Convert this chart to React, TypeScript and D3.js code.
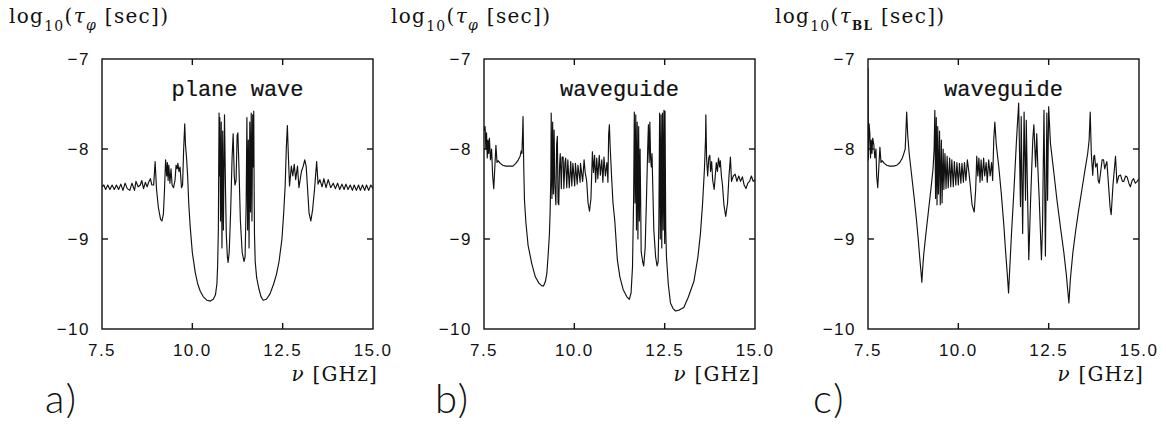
import React from "react";
import * as d3 from "d3";

type Pt = [number, number];

const xTicks = [7.5, 10.0, 12.5, 15.0];
const yTicks = [-7, -8, -9, -10];
const xTickLabels = ["7.5", "10.0", "12.5", "15.0"];
const yTickLabels = ["\u22127", "\u22128", "\u22129", "\u221210"];
const panelTitles = ["plane wave", "waveguide", "waveguide"];
const panelLetters = ["a)", "b)", "c)"];
const ySubscripts = ["\u03c6", "\u03c6", "BL"];

// panel a: plane wave, log10(tau_phi)
const seriesA: Pt[] = [
  [7.50,-8.42],[7.55,-8.40],[7.60,-8.45],[7.66,-8.40],[7.72,-8.45],[7.78,-8.40],[7.84,-8.45],[7.90,-8.40],
  [7.96,-8.45],[8.02,-8.39],[8.08,-8.46],[8.14,-8.38],[8.20,-8.44],[8.27,-8.46],[8.33,-8.38],[8.40,-8.46],
  [8.44,-8.36],[8.50,-8.42],[8.56,-8.40],[8.60,-8.35],[8.65,-8.44],[8.70,-8.37],[8.75,-8.42],[8.80,-8.36],
  [8.84,-8.33],[8.88,-8.40],[8.93,-8.40],[8.97,-8.14],[9.01,-8.45],[9.06,-8.65],[9.12,-8.78],[9.16,-8.80],
  [9.20,-8.72],[9.23,-8.45],[9.26,-8.12],[9.29,-8.30],[9.31,-8.15],[9.33,-8.35],[9.35,-8.18],[9.38,-8.38],
  [9.41,-8.22],[9.44,-8.40],[9.48,-8.43],[9.52,-8.35],[9.55,-8.18],[9.58,-8.22],[9.60,-8.16],[9.63,-8.25],
  [9.66,-8.20],[9.70,-8.43],[9.73,-8.40],[9.76,-8.00],[9.79,-7.72],[9.81,-7.95],[9.84,-8.10],[9.87,-8.30],
  [9.90,-8.60],[9.94,-8.86],[10.00,-9.15],[10.08,-9.37],[10.15,-9.50],[10.22,-9.58],[10.30,-9.64],[10.40,-9.68],
  [10.50,-9.69],[10.58,-9.67],[10.64,-9.62],[10.68,-9.50],[10.70,-9.30],[10.72,-8.90],[10.73,-8.20],[10.74,-7.60],
  [10.75,-8.30],[10.76,-7.65],[10.78,-8.80],[10.80,-7.70],[10.82,-9.10],[10.84,-7.80],[10.86,-8.90],[10.89,-7.62],
  [10.92,-8.50],[10.94,-8.95],[10.97,-9.20],[10.99,-9.26],[11.02,-9.15],[11.06,-8.70],[11.10,-8.10],[11.13,-7.83],
  [11.16,-8.30],[11.18,-8.40],[11.21,-8.35],[11.24,-7.85],[11.26,-7.82],[11.29,-8.20],[11.33,-8.80],[11.38,-9.15],
  [11.43,-9.25],[11.46,-9.20],[11.49,-8.60],[11.51,-7.65],[11.53,-8.90],[11.55,-7.90],[11.57,-9.10],[11.59,-7.70],
  [11.61,-8.70],[11.63,-7.60],[11.65,-8.80],[11.67,-7.62],[11.69,-8.20],[11.70,-7.58],[11.71,-8.40],[11.72,-8.95],
  [11.74,-9.25],[11.78,-9.43],[11.84,-9.55],[11.90,-9.64],[11.96,-9.68],[12.05,-9.67],[12.15,-9.61],[12.25,-9.50],
  [12.33,-9.39],[12.40,-9.25],[12.48,-9.00],[12.53,-8.70],[12.57,-8.40],[12.60,-8.00],[12.63,-7.74],[12.66,-8.10],
  [12.69,-8.41],[12.74,-8.19],[12.78,-8.30],[12.82,-8.17],[12.86,-8.34],[12.91,-8.19],[12.95,-8.43],[13.02,-8.25],
  [13.07,-8.19],[13.11,-8.12],[13.15,-8.19],[13.18,-8.38],[13.23,-8.71],[13.28,-8.80],[13.33,-8.67],[13.39,-8.41],
  [13.44,-8.14],[13.48,-8.39],[13.53,-8.34],[13.59,-8.42],[13.64,-8.33],[13.70,-8.43],[13.76,-8.34],[13.83,-8.43],
  [13.90,-8.38],[13.96,-8.44],[14.02,-8.38],[14.08,-8.45],[14.14,-8.39],[14.20,-8.45],[14.25,-8.39],[14.31,-8.45],
  [14.37,-8.40],[14.43,-8.46],[14.48,-8.40],[14.54,-8.46],[14.60,-8.40],[14.65,-8.46],[14.71,-8.40],[14.77,-8.46],
  [14.82,-8.40],[14.88,-8.46],[14.94,-8.40],[15.00,-8.44],
];

// panel b: waveguide, log10(tau_phi)
const seriesB: Pt[] = [
  [7.50,-7.80],[7.53,-7.75],[7.55,-8.00],[7.57,-7.82],[7.59,-8.10],[7.61,-7.90],[7.63,-8.05],[7.65,-7.88],
  [7.68,-8.12],[7.71,-8.00],[7.74,-8.30],[7.77,-8.44],[7.80,-8.20],[7.83,-7.96],[7.86,-8.15],[7.89,-8.13],
  [7.95,-8.16],[8.02,-8.18],[8.10,-8.19],[8.20,-8.19],[8.30,-8.19],[8.38,-8.16],[8.45,-8.12],[8.50,-8.08],
  [8.53,-8.02],[8.55,-8.05],[8.57,-7.80],[8.58,-7.64],[8.60,-8.20],[8.62,-8.57],[8.66,-8.82],[8.72,-9.07],
  [8.82,-9.27],[8.92,-9.42],[9.02,-9.49],[9.10,-9.52],[9.15,-9.52],[9.20,-9.47],[9.24,-9.38],[9.28,-9.15],
  [9.31,-8.95],[9.33,-8.70],[9.35,-8.30],[9.36,-7.60],[9.38,-8.55],[9.40,-7.70],[9.42,-8.50],[9.44,-7.79],
  [9.46,-8.40],[9.49,-8.62],[9.51,-7.95],[9.53,-7.86],[9.55,-8.60],[9.57,-8.62],[9.59,-8.20],[9.61,-8.05],
  [9.64,-8.44],[9.66,-8.09],[9.69,-8.09],[9.71,-8.44],[9.74,-8.15],[9.76,-8.10],[9.79,-8.43],[9.82,-8.12],
  [9.86,-8.43],[9.90,-8.14],[9.93,-8.41],[9.96,-8.16],[10.01,-8.41],[10.03,-8.16],[10.08,-8.39],[10.10,-8.18],
  [10.16,-8.37],[10.17,-8.16],[10.23,-8.36],[10.27,-8.12],[10.30,-8.26],[10.34,-8.35],[10.38,-8.60],[10.42,-8.69],
  [10.46,-8.55],[10.50,-8.03],[10.53,-8.26],[10.56,-8.07],[10.59,-8.37],[10.62,-8.10],[10.65,-8.33],[10.69,-8.07],
  [10.72,-8.29],[10.76,-8.12],[10.79,-8.37],[10.82,-8.09],[10.86,-8.30],[10.90,-8.15],[10.93,-8.37],[10.95,-7.84],
  [10.97,-7.73],[10.99,-7.96],[11.03,-8.30],[11.07,-8.60],[11.12,-8.80],[11.19,-9.23],[11.26,-9.42],[11.35,-9.56],
  [11.45,-9.64],[11.52,-9.67],[11.57,-9.60],[11.61,-9.31],[11.64,-8.57],[11.66,-7.59],[11.68,-8.60],[11.70,-7.62],
  [11.72,-8.90],[11.74,-7.70],[11.76,-9.00],[11.78,-7.75],[11.80,-8.80],[11.82,-8.00],[11.85,-9.14],[11.89,-9.25],
  [11.92,-9.30],[11.96,-9.10],[12.00,-8.50],[12.03,-8.00],[12.05,-7.73],[12.07,-8.15],[12.09,-7.70],[12.11,-8.10],
  [12.13,-8.20],[12.15,-8.05],[12.17,-8.40],[12.20,-8.90],[12.25,-9.20],[12.29,-9.30],[12.32,-9.25],[12.34,-8.80],
  [12.36,-7.60],[12.38,-9.00],[12.40,-7.62],[12.42,-9.10],[12.44,-7.60],[12.46,-8.90],[12.48,-7.57],[12.50,-9.05],
  [12.51,-7.58],[12.53,-8.90],[12.55,-9.20],[12.60,-9.50],[12.66,-9.71],[12.73,-9.77],[12.80,-9.80],[12.90,-9.79],
  [13.03,-9.76],[13.15,-9.65],[13.31,-9.47],[13.42,-9.20],[13.49,-8.94],[13.55,-8.60],[13.60,-8.23],[13.63,-7.90],
  [13.64,-7.62],[13.66,-8.10],[13.69,-8.30],[13.72,-8.10],[13.75,-8.07],[13.77,-8.25],[13.80,-8.14],[13.83,-8.35],
  [13.87,-8.45],[13.90,-8.30],[13.93,-8.15],[13.96,-8.25],[13.99,-8.10],[14.02,-8.20],[14.04,-8.13],[14.07,-8.30],
  [14.10,-8.40],[14.14,-8.62],[14.19,-8.75],[14.24,-8.60],[14.28,-8.30],[14.32,-8.09],[14.35,-8.36],[14.40,-8.30],
  [14.45,-8.28],[14.50,-8.36],[14.55,-8.30],[14.60,-8.36],[14.65,-8.31],[14.70,-8.40],[14.75,-8.44],[14.80,-8.38],
  [14.85,-8.36],[14.90,-8.30],[14.95,-8.36],[15.00,-8.34],
];

// panel c: waveguide, log10(tau_BL)
const seriesC: Pt[] = [
  [7.50,-7.10],[7.51,-8.12],[7.53,-7.72],[7.55,-7.82],[7.57,-8.10],[7.59,-7.90],[7.61,-8.05],[7.63,-7.88],
  [7.66,-7.95],[7.69,-8.10],[7.72,-8.00],[7.74,-8.30],[7.77,-8.43],[7.80,-8.20],[7.83,-7.98],[7.86,-8.15],
  [7.89,-8.13],[7.95,-8.16],[8.02,-8.18],[8.10,-8.19],[8.20,-8.19],[8.30,-8.18],[8.38,-8.15],[8.45,-8.10],
  [8.50,-8.04],[8.53,-8.00],[8.55,-7.80],[8.57,-7.59],[8.60,-7.85],[8.64,-8.05],[8.71,-8.30],[8.78,-8.55],
  [8.84,-8.78],[8.89,-9.00],[8.93,-9.20],[8.97,-9.38],[8.99,-9.48],[9.01,-9.35],[9.04,-9.18],[9.10,-8.95],
  [9.17,-8.70],[9.24,-8.45],[9.30,-8.22],[9.33,-8.00],[9.35,-7.57],[9.37,-8.55],[9.39,-7.65],[9.41,-8.62],
  [9.43,-7.75],[9.45,-8.50],[9.48,-7.80],[9.50,-8.62],[9.53,-7.90],[9.55,-8.60],[9.58,-8.00],[9.60,-8.45],
  [9.63,-8.05],[9.66,-8.44],[9.69,-8.08],[9.72,-8.43],[9.76,-8.10],[9.79,-8.42],[9.82,-8.12],[9.86,-8.42],
  [9.89,-8.14],[9.93,-8.40],[9.96,-8.15],[10.00,-8.40],[10.03,-8.16],[10.07,-8.38],[10.10,-8.16],[10.14,-8.37],
  [10.17,-8.15],[10.21,-8.35],[10.25,-8.12],[10.29,-8.25],[10.33,-8.40],[10.38,-8.62],[10.44,-8.70],[10.48,-8.45],
  [10.51,-8.08],[10.54,-8.30],[10.57,-8.10],[10.60,-8.37],[10.63,-8.12],[10.66,-8.35],[10.70,-8.10],[10.73,-8.30],
  [10.77,-8.15],[10.80,-8.37],[10.84,-8.12],[10.88,-8.30],[10.92,-8.15],[10.95,-8.35],[10.98,-7.90],[11.01,-7.70],
  [11.05,-7.95],[11.12,-8.20],[11.19,-8.50],[11.26,-8.85],[11.31,-9.15],[11.36,-9.42],[11.39,-9.60],[11.42,-9.35],
  [11.47,-8.95],[11.54,-8.45],[11.61,-7.90],[11.67,-7.49],[11.72,-8.64],[11.74,-7.64],[11.78,-8.94],[11.82,-7.59],
  [11.86,-8.57],[11.88,-7.68],[11.91,-8.38],[11.95,-9.23],[12.00,-8.57],[12.06,-7.90],[12.09,-7.73],[12.14,-8.20],
  [12.17,-7.83],[12.20,-8.20],[12.24,-8.57],[12.30,-9.23],[12.33,-8.86],[12.37,-7.57],[12.41,-9.19],[12.45,-7.60],
  [12.47,-8.57],[12.50,-7.53],[12.55,-7.94],[12.64,-8.25],[12.73,-8.57],[12.83,-8.88],[12.92,-9.15],[12.99,-9.40],
  [13.03,-9.58],[13.06,-9.71],[13.10,-9.45],[13.17,-9.15],[13.25,-8.90],[13.33,-8.68],[13.42,-8.45],[13.51,-8.22],
  [13.58,-8.05],[13.62,-7.90],[13.65,-7.59],[13.68,-8.05],[13.72,-8.29],[13.75,-8.08],[13.77,-8.07],[13.80,-8.20],
  [13.84,-8.16],[13.87,-8.35],[13.90,-8.38],[13.94,-8.25],[13.98,-8.12],[14.02,-8.12],[14.05,-8.22],[14.07,-8.19],
  [14.11,-8.14],[14.16,-8.42],[14.20,-8.65],[14.23,-8.73],[14.28,-8.40],[14.35,-8.08],[14.39,-8.38],[14.44,-8.30],
  [14.49,-8.29],[14.54,-8.36],[14.58,-8.36],[14.63,-8.30],[14.67,-8.31],[14.72,-8.38],[14.76,-8.42],[14.81,-8.35],
  [14.85,-8.33],[14.90,-8.38],[14.95,-8.36],[15.00,-8.33],
];

const allSeries = [seriesA, seriesB, seriesC];
const panelLefts = [102, 484, 868];
const letterXs = [45, 435, 813];

const PW = 271;
const PTOP = 59;
const PH = 270;
const INK = "#111";

function Panel({ idx }: { idx: number }) {
  const left = panelLefts[idx];
  const x = d3.scaleLinear().domain([7.5, 15]).range([left, left + PW]);
  const y = d3.scaleLinear().domain([-10, -7]).range([PTOP + PH, PTOP]);
  const line = d3
    .line<Pt>()
    .x((d) => x(d[0]))
    .y((d) => y(d[1]));
  const clipId = `clip-${idx}`;
  const tickLen = 6;
  const innerX = xTicks.slice(1, -1);
  const innerY = yTicks.slice(1, -1);
  const sub = ySubscripts[idx];
  return (
    <g>
      <defs>
        <clipPath id={clipId}>
          <rect x={left} y={PTOP} width={PW} height={PH} />
        </clipPath>
      </defs>
      {/* y axis title */}
      <text x={left - 93} y={23} fontFamily="'DejaVu Serif', serif" fontSize={20} fill={INK} letterSpacing={1.3}>
        log
        <tspan dy={8} fontSize={14}>10</tspan>
        <tspan dy={-8}>(</tspan>
        <tspan fontStyle="italic">{"\u03c4"}</tspan>
        {sub === "BL" ? (
          <tspan dy={7} fontSize={12} fontWeight="bold">{sub}</tspan>
        ) : (
          <tspan dy={7} fontSize={14} fontStyle="italic">{sub}</tspan>
        )}
        <tspan dy={-7}>{"  [sec])"}</tspan>
      </text>

      {/* data line */}
      <path
        d={line(allSeries[idx]) || ""}
        fill="none"
        stroke={INK}
        strokeWidth={1.15}
        strokeLinejoin="round"
        clipPath={`url(#${clipId})`}
      />

      {/* frame */}
      <rect x={left} y={PTOP} width={PW} height={PH} fill="none" stroke={INK} strokeWidth={1.4} />

      {/* ticks */}
      {innerX.map((t) => (
        <g key={`xt${t}`}>
          <line x1={x(t)} x2={x(t)} y1={PTOP} y2={PTOP + tickLen} stroke={INK} strokeWidth={1.4} />
          <line x1={x(t)} x2={x(t)} y1={PTOP + PH} y2={PTOP + PH - tickLen} stroke={INK} strokeWidth={1.4} />
        </g>
      ))}
      {innerY.map((t) => (
        <g key={`yt${t}`}>
          <line x1={left} x2={left + tickLen} y1={y(t)} y2={y(t)} stroke={INK} strokeWidth={1.4} />
          <line x1={left + PW} x2={left + PW - tickLen} y1={y(t)} y2={y(t)} stroke={INK} strokeWidth={1.4} />
        </g>
      ))}

      {/* tick labels */}
      {xTicks.map((t, i) => (
        <text
          key={`xl${t}`}
          x={x(t)}
          y={PTOP + PH + 27}
          textAnchor="middle"
          fontFamily="'Liberation Sans', Arial, sans-serif"
          fontSize={17}
          letterSpacing={1.4}
          fill={INK}
        >
          {xTickLabels[i]}
        </text>
      ))}
      {yTicks.map((t, i) => (
        <text
          key={`yl${t}`}
          x={left - 12}
          y={y(t) + 6}
          textAnchor="end"
          fontFamily="'Liberation Sans', Arial, sans-serif"
          fontSize={17}
          letterSpacing={1.5}
          fill={INK}
        >
          {yTickLabels[i]}
        </text>
      ))}

      {/* panel title */}
      <text
        x={left + PW / 2}
        y={96}
        textAnchor="middle"
        fontFamily="'Liberation Mono', 'Courier New', monospace"
        fontSize={22}
        fill={INK}
        stroke={INK}
        strokeWidth={0.2}
      >
        {panelTitles[idx]}
      </text>

      {/* x axis label */}
      <text
        x={left + PW + 5}
        y={381}
        textAnchor="end"
        fontFamily="'DejaVu Serif', serif"
        fontSize={20}
        fill={INK}
        letterSpacing={1.2}
      >
        <tspan fontStyle="italic">{"\u03bd"}</tspan>
        {"  [GHz]"}
      </text>

      {/* panel letter */}
      <text
        x={letterXs[idx]}
        y={413}
        fontFamily="Lato, 'Liberation Sans', sans-serif"
        fontWeight={300}
        fontSize={40}
        letterSpacing={2}
        fill={INK}
      >
        {panelLetters[idx]}
      </text>
    </g>
  );
}

export default function App() {
  return (
    <svg
      width={1166}
      height={432}
      style={{ position: "absolute", left: 0, top: 0, background: "#fff" }}
    >
      <rect x={0} y={0} width={1166} height={432} fill="#fff" />
      {[0, 1, 2].map((i) => (
        <Panel key={i} idx={i} />
      ))}
    </svg>
  );
}
